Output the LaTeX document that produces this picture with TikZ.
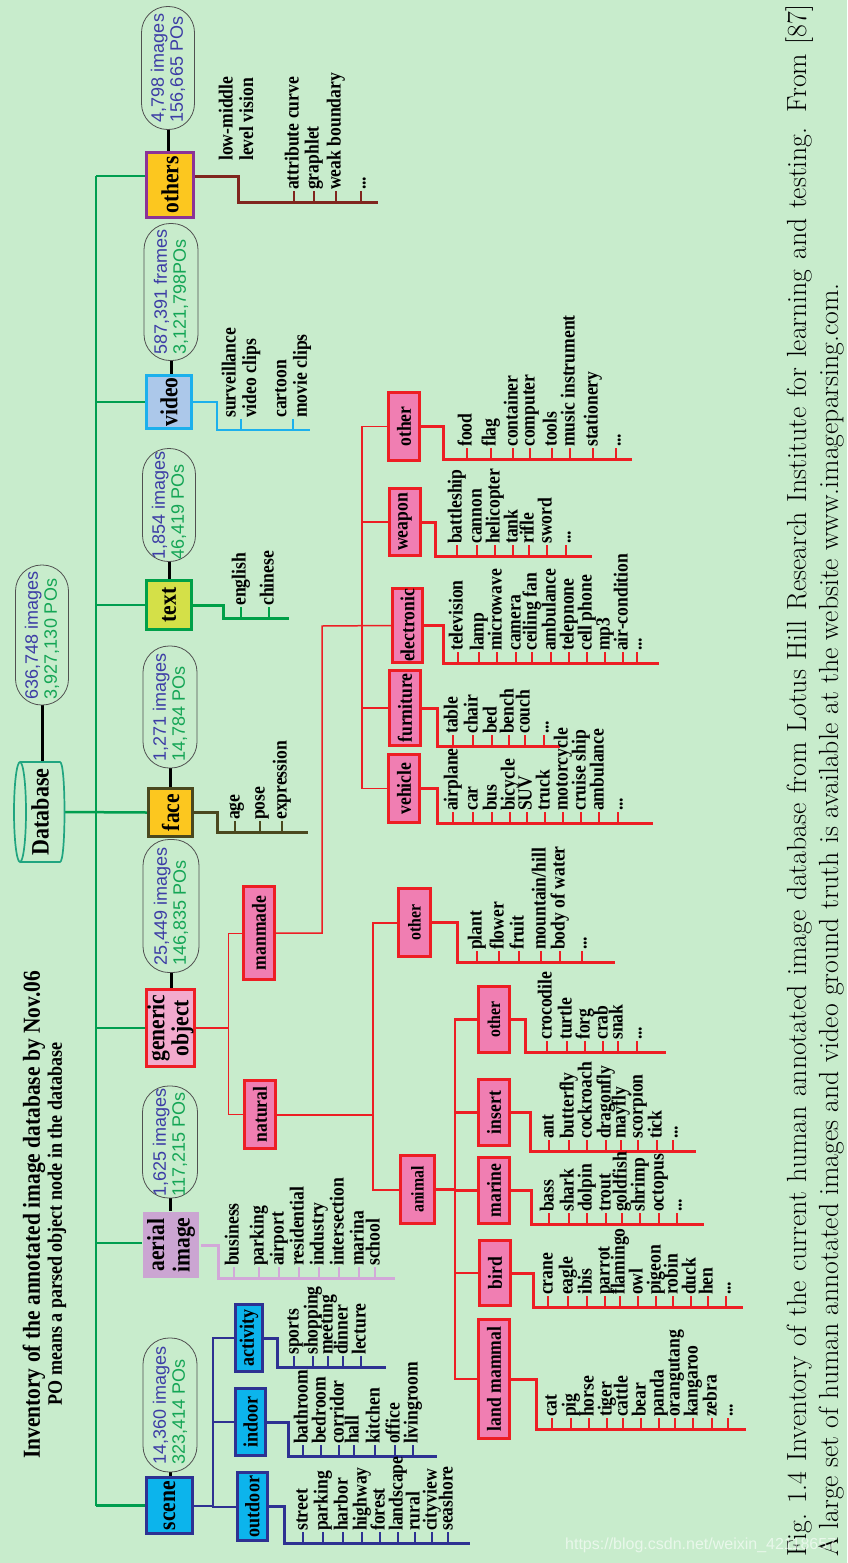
\documentclass[tikz,border=0pt]{standalone}
\usepackage{fontspec}
\newfontfamily\tnr{Liberation Serif}
\newfontfamily\tnrc[FakeStretch=0.88]{Liberation Serif}
\newfontfamily\ari{Liberation Sans}
\pgfdeclarelayer{back}
\pgfdeclarelayer{lines}
\pgfsetlayers{back,lines,main}
\definecolor{bgc}{RGB}{200,236,204}
\definecolor{spinec}{RGB}{0,158,79}
\definecolor{scf}{RGB}{12,180,236}
\definecolor{scb}{RGB}{46,49,146}
\definecolor{aerf}{RGB}{203,165,210}
\definecolor{aerl}{RGB}{210,168,216}
\definecolor{genf}{RGB}{243,170,205}
\definecolor{redc}{RGB}{237,30,36}
\definecolor{pinkc}{RGB}{240,126,178}
\definecolor{goldf}{RGB}{252,199,31}
\definecolor{olivec}{RGB}{74,72,30}
\definecolor{txtf}{RGB}{212,224,72}
\definecolor{txtb}{RGB}{0,160,72}
\definecolor{vidf}{RGB}{172,200,234}
\definecolor{vidb}{RGB}{28,176,236}
\definecolor{othb}{RGB}{140,50,150}
\definecolor{brownc}{RGB}{128,38,30}
\definecolor{dbc}{RGB}{32,165,128}
\definecolor{ovalc}{RGB}{80,80,80}
\definecolor{imgc}{RGB}{60,60,165}
\definecolor{poc}{RGB}{20,165,85}
\newcommand\etcdots{...}
\newcommand\mkcomb[7]{%
  \coordinate (#1C) at (#4,#5);
  \coordinate (#1E) at (#6,#5);
  \begin{pgfonlayer}{lines}
    \draw[#2, line width=3pt] #3 -| (#1C) -- (#1E);
  \end{pgfonlayer}
  \foreach \xx/\lbtext [count=\ii] in {#7} {
    \node[leaf] (#1\ii) at (\xx,#5-11) {\lbtext};
    \draw[#2, line width=2pt] (#1\ii.west) -- (#1\ii.west |- #1C);
  }%
}
\begin{document}
\begin{tikzpicture}[x=1pt,y=-1pt,
  catbox/.style={draw, line width=3pt, rotate=90, inner sep=1pt, align=center, font=\tnrc\bfseries\fontsize{24.5}{24}\selectfont},
  subbox/.style={draw=redc, fill=pinkc, line width=3pt, rotate=90, inner sep=1pt, font=\tnrc\bfseries\fontsize{20}{21}\selectfont},
  scsub/.style={draw=scb, fill=scf, line width=3pt, rotate=90, inner sep=1pt, font=\tnrc\bfseries\fontsize{20.5}{21}\selectfont},
  stat/.style={draw=ovalc, line width=0.8pt, rounded corners=26pt, rotate=90, inner sep=0pt, align=left, font=\ari\fontsize{18}{19}\selectfont},
  statconn/.style={line width=3pt, black},
  leaf/.style={rotate=90, anchor=west, inner sep=1pt, text height=13.5pt, text depth=4.5pt, font=\tnrc\bfseries\fontsize{20}{21}\selectfont},
  leafml/.style={rotate=90, anchor=west, inner sep=1pt, align=left, font=\tnrc\bfseries\fontsize{20}{20.5}\selectfont},
  spine/.style={line width=2.5pt, spinec}]
\begin{pgfonlayer}{back}
\fill[bgc] (0,0) rectangle (847,1563);
\end{pgfonlayer}
\useasboundingbox (0,0) rectangle (847,1563);

% title
\node[rotate=90, inner sep=0, font=\tnrc\bfseries\fontsize{24.4}{26}\selectfont] (title) at (34,1215) {Inventory of the annotated image database by Nov.06};
\node[rotate=90, inner sep=0, font=\tnrc\bfseries\fontsize{20.5}{22}\selectfont] (subtitle) at (57,1224) {PO means a parsed object node in the database};

% database
\node[rotate=90, inner sep=0, minimum width=100, minimum height=48, font=\tnrc\bfseries\fontsize{25}{26}\selectfont] (db) at (40,812) {Database};
\draw[dbc, line width=1.7pt] (20,812) ellipse [x radius=6, y radius=50];
\draw[dbc, line width=1.7pt] (20,762) -- (60,762) .. controls (66,762) and (66,862) .. (60,862) -- (20,862);

% statistics ovals
\node[stat, minimum width=140, minimum height=53] (dbst) at (42,635) {\textcolor{imgc}{636,748 images}\\\textcolor{poc}{3,927,130 POs}};
\node[stat, minimum width=123, minimum height=53] (othst) at (168,68) {\textcolor{imgc}{4,798 images}\\\textcolor{imgc}{156,665 POs}};
\node[stat, minimum width=137, minimum height=54] (vidst) at (171,292) {\textcolor{imgc}{587,391 frames}\\\textcolor{poc}{3,121,798POs}};
\node[stat, minimum width=113, minimum height=53] (txtst) at (169,505) {\textcolor{imgc}{1,854 images}\\\textcolor{poc}{46,419 POs}};
\node[stat, minimum width=122, minimum height=54] (facest) at (170,707) {\textcolor{imgc}{1,271 images}\\\textcolor{poc}{14,784 POs}};
\node[stat, minimum width=133, minimum height=56] (genst) at (171,906) {\textcolor{imgc}{25,449 images}\\\textcolor{poc}{146,835 POs}};
\node[stat, minimum width=112, minimum height=55] (aerst) at (170,1142) {\textcolor{imgc}{1,625 images}\\\textcolor{poc}{117,215 POs}};
\node[stat, minimum width=134, minimum height=54] (scst) at (170,1405) {\textcolor{imgc}{14,360 images}\\\textcolor{poc}{323,414 POs}};

% category boxes
\node[catbox, draw=othb, fill=goldf, minimum width=65, minimum height=47] (others) at (170,185) {others};
\node[catbox, draw=vidb, fill=vidf, minimum width=53, minimum height=45] (video) at (169,402) {video};
\node[catbox, draw=txtb, fill=txtf, minimum width=49, minimum height=45] (txt) at (169,605) {text};
\node[catbox, draw=olivec, fill=goldf, minimum width=48, minimum height=44] (face) at (170.5,812.5) {face};
\node[catbox, draw=redc, fill=genf, minimum width=77, minimum height=48] (generic) at (170.5,1028) {generic\\object};
\node[catbox, draw=none, fill=aerf, minimum width=66, minimum height=56, font=\tnrc\bfseries\fontsize{24.5}{25.5}\selectfont] (aerial) at (171,1245) {aerial\\image};
\node[catbox, draw=scb, fill=scf, minimum width=56, minimum height=46] (scene) at (169.5,1505.5) {scene};

\begin{pgfonlayer}{lines}
\draw[statconn] (dbst.west) -- (dbst.west |- db.east);
\draw[statconn] (othst.west) -- (othst.west |- others.east);
\draw[statconn] (vidst.west) -- (vidst.west |- video.east);
\draw[statconn] (txtst.west) -- (txtst.west |- txt.east);
\draw[statconn] (facest.west) -- (facest.west |- face.east);
\draw[statconn] (genst.west) -- (genst.west |- generic.east);
\draw[statconn] (aerst.west) -- (aerst.west |- aerial.east);
\draw[statconn] (scst.west) -- (scst.west |- scene.east);
\end{pgfonlayer}

% spine
\coordinate (s1) at (96,176);
\coordinate (s2) at (96,402);
\coordinate (s3) at (96,605);
\coordinate (s5) at (96,1028);
\coordinate (s6) at (96,1243);
\coordinate (s7) at (96,1505.5);
\begin{pgfonlayer}{lines}
\draw[spine] (s1) -- (s7);
\draw[spine] (s1) -- (s1 -| others.north);
\draw[spine] (s2) -- (video.north);
\draw[spine] (s3) -- (txt.north);
\draw[spine] (db.south) -- (face.north);
\draw[spine] (s5) -- (generic.north);
\draw[spine] (s6) -- (s6 -| aerial.north);
\draw[spine] (s7) -- (scene.north);
\end{pgfonlayer}

% others
\mkcomb{oth}{brownc}{(others.south |- s1)}{238}{202}{378}{294/attribute curve, 314/graphlet, 336/weak boundary, 361/{\etcdots}}
\node[leafml] (lmlv) at (236,162) {low-middle\\level vision};

% video
\coordinate (vidC) at (217,430);
\coordinate (vidE) at (310,430);
\begin{pgfonlayer}{lines}
\draw[vidb, line width=2.5pt] (video.south) -| (vidC) -- (vidE);
\end{pgfonlayer}
\node[leafml] (vl1) at (241,419) {surveillance\\video clips};
\node[leafml] (vl2) at (293,419) {cartoon\\movie clips};
\draw[vidb, line width=2pt] (vl1.west) -- (vl1.west |- vidC);
\draw[vidb, line width=2pt] (vl2.west) -- (vl2.west |- vidC);

% text, face, aerial
\mkcomb{tx}{txtb}{(txt.south)}{223}{618}{289}{241/english, 269/chinese}
\mkcomb{fc}{olivec}{(face.south)}{217}{832}{308}{235/age, 260/pose, 282/expression}
\mkcomb{ae}{aerl}{(aerial.south)}{218}{1278}{395}{234/business, 259/parking, 279/airport, 299/residential, 319/industry, 339/intersection, 359/marina, 375/school}

% scene subtree
\node[scsub, minimum width=67, minimum height=27] (activity) at (249,1338) {activity};
\node[scsub, minimum width=67, minimum height=30] (indoor) at (250.5,1422) {indoor};
\node[scsub, minimum width=68, minimum height=30] (outdoor) at (252.5,1506.5) {outdoor};
\coordinate (scJ) at (213,1505.5);
\begin{pgfonlayer}{lines}
\draw[scb, line width=2pt] (scene.south) -- (scJ);
\draw[scb, line width=2pt] (activity.north) -| (scJ);
\draw[scb, line width=2pt] (indoor.north) -| (scJ);
\draw[scb, line width=2pt] (outdoor.north) -| (scJ);
\end{pgfonlayer}
\mkcomb{act}{scb}{(activity.south)}{277}{1367}{386}{294/sports, 313/shopping, 328/meeting, 343/dinner, 361/lecture}
\mkcomb{ind}{scb}{(indoor.south)}{288}{1456}{437}{303/bathroom, 321/bedroom, 339/corridor, 354/hall, 375/kitchen, 395/office, 413/livingroom}
\mkcomb{out}{scb}{(outdoor.south)}{284}{1543}{470}{303/street, 323/parking, 343/harbor, 362/highway, 380/forest, 398/landscape, 415/rural, 432/cityview, 448/seashore}

% generic object subtree
\node[subbox, minimum width=93, minimum height=31] (manmade) at (259,933) {manmade};
\node[subbox, minimum width=68, minimum height=31] (natural) at (260,1114.5) {natural};
\coordinate (gJ) at (228,1028);
\begin{pgfonlayer}{lines}
\draw[redc, line width=1.8pt] (generic.south) -- (gJ);
\draw[redc, line width=1pt] (manmade.north) -| (gJ);
\draw[redc, line width=1pt] (natural.north) -| (gJ);
\end{pgfonlayer}

% manmade subtree
\node[subbox, minimum width=68, minimum height=31] (mmother) at (404,426.5) {other};
\node[subbox, minimum width=67, minimum height=31] (weapon) at (405,522) {weapon};
\node[subbox, minimum width=74, minimum height=30] (electronic) at (407.5,625.5) {electronic};
\node[subbox, minimum width=75, minimum height=31] (furniture) at (405,708) {furniture};
\node[subbox, minimum width=68, minimum height=31] (vehicle) at (404,788.5) {vehicle};
\coordinate (mA) at (322,626);
\coordinate (mB) at (362,626);
\begin{pgfonlayer}{lines}
\draw[redc, line width=1.5pt] (manmade.south) -| (mA) -- (electronic.north);
\draw[redc, line width=1.5pt] (mmother.north) -| (mB);
\draw[redc, line width=1.5pt] (weapon.north) -| (mB);
\draw[redc, line width=1.5pt] (furniture.north) -| (mB);
\draw[redc, line width=1.5pt] (vehicle.north) -| (mB);
\end{pgfonlayer}
\mkcomb{mo}{redc}{(mmother.south)}{443}{459}{632}{467/food, 491/flag, 513/container, 530/computer, 552/tools, 570/music instrument, 593/stationery, 616/{\etcdots}}
\mkcomb{we}{redc}{(weapon.south)}{435}{556}{592}{457/battleship, 477/cannon, 495/helicopter, 513/tank, 529/rifle, 547/sword, 566/{\etcdots}}
\mkcomb{el}{redc}{(electronic.south)}{443}{663}{659}{458/television, 479/lamp, 497/microwave, 516/camera, 532/ceiling fan, 551/ambulance, 569/telepnone, 587/cell phone, 605/mp3, 623/air-condition, 637/{\etcdots}}
\mkcomb{fu}{redc}{(furniture.south)}{437}{746}{560}{453/table, 473/chair, 492/bed, 509/bench, 525/couch, 544/{\etcdots}}
\mkcomb{ve}{redc}{(vehicle.south)}{437}{823}{653}{453/airplane, 473/car, 492/bus, 510/bicycle, 527/SUV, 545/truck, 563/motorcycle, 581/cruise ship, 599/ambulance, 618/{\etcdots}}

% natural subtree
\node[subbox, minimum width=68, minimum height=32, font=\tnrc\bfseries\fontsize{18}{19}\selectfont] (natother) at (414.5,922.5) {other};
\node[subbox, minimum width=68, minimum height=34, font=\tnrc\bfseries\fontsize{18}{19}\selectfont] (animal) at (417.5,1189.5) {animal};
\coordinate (nJ) at (373,1114.5);
\begin{pgfonlayer}{lines}
\draw[redc, line width=2pt] (natural.south) -- (nJ);
\draw[redc, line width=2pt] (natother.north) -| (nJ);
\draw[redc, line width=2pt] (animal.north) -| (nJ);
\end{pgfonlayer}
\mkcomb{no}{redc}{(natother.south)}{457}{962}{615}{477/plant, 499/flower, 519/fruit, 541/{mountain/hill}, 560/body of water, 582/{\etcdots}}

% animal subtree
\node[subbox, minimum width=66, minimum height=31, font=\tnrc\bfseries\fontsize{18}{19}\selectfont] (anOther) at (494,1019.5) {other};
\node[subbox, minimum width=66, minimum height=31] (insert) at (494,1112.5) {insert};
\node[subbox, minimum width=66, minimum height=31] (marine) at (494,1190.5) {marine};
\node[subbox, minimum width=65, minimum height=31] (bird) at (495,1273) {bird};
\node[subbox, minimum width=119, minimum height=31] (landmammal) at (494,1379) {land mammal};
\coordinate (aJ) at (455,1189.5);
\begin{pgfonlayer}{lines}
\draw[redc, line width=2.2pt] (animal.south) -- (aJ);
\draw[redc, line width=2.2pt] (anOther.north) -| (aJ);
\draw[redc, line width=2.2pt] (insert.north) -| (aJ);
\draw[redc, line width=2.2pt] (marine.north) -| (aJ);
\draw[redc, line width=2.2pt] (bird.north) -| (aJ);
\draw[redc, line width=2.2pt] (landmammal.north) -| (aJ);
\end{pgfonlayer}
\mkcomb{ao}{redc}{(anOther.south)}{525}{1052}{666}{547/crocodile, 567/turtle, 585/forg, 603/crab, 618/snak, 637/{\etcdots}}
\mkcomb{in}{redc}{(insert.south)}{530}{1151}{696}{549/ant, 569/butterfly, 587/cockroach, 606/dragonfly, 621/mayfly, 638/scorpion, 657/tick, 673/{\etcdots}}
\mkcomb{ma}{redc}{(marine.south)}{531}{1224}{704}{549/bass, 569/shark, 587/dolpin, 606/trout, 622/goldfish, 640/shrimp, 659/octopus, 677/{\etcdots}}
\mkcomb{bi}{redc}{(bird.south)}{533}{1307}{743}{548/crane, 568/eagle, 587/ibis, 605/parrot, 620/flamingo, 638/owl, 656/pigeon, 673/robin, 691/duck, 708/hen, 726/{\etcdots}}
\mkcomb{lm}{redc}{(landmammal.south)}{536}{1429}{746}{552/cat, 571/pig, 589/horse, 607/tiger, 623/cattle, 641/bear, 659/panda, 675/orangutang, 693/kangaroo, 712/zebra, 728/{\etcdots}}

% caption
\node[rotate=90, anchor=base west, inner sep=0, font=\fontsize{27.7}{32}\selectfont] (cap1) at (806,1557) {\makebox[1552pt][s]{Fig.\ 1.4 Inventory of the current human annotated image database from Lotus Hill Research Institute for learning and testing. From [87]}};
\node[rotate=90, anchor=base west, inner sep=0, font=\fontsize{27.7}{32}\selectfont] (cap2) at (838,1557) {A large set of human annotated images and video ground truth is available at the website www.imageparsing.com.};

% watermark
\node[anchor=west, inner sep=0, text=white, opacity=0.6, font=\ari\fontsize{16}{16}\selectfont] (wm) at (565,1545) {https://blog.csdn.net/weixin\_42118657};
\end{tikzpicture}
\end{document}
